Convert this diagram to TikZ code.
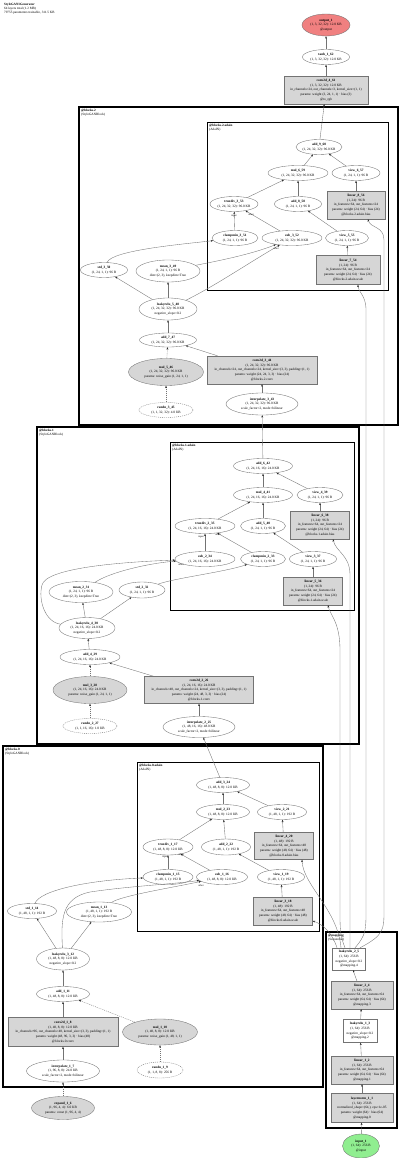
\documentclass[tikz,border=0pt]{standalone}
\usepackage{fontspec}
\setmainfont{Liberation Serif}
\usetikzlibrary{shapes.geometric,arrows.meta}
\definecolor{outred}{HTML}{F08080}
\definecolor{ingreen}{HTML}{90EE90}
\newcommand\mknode[7]{%
 \node[#1,minimum width=#5pt,minimum height=#6pt] (#2) at (#3,#4) {};
 \node[txt] (#2-t) at (#2.center) {#7};}
\begin{document}
\begin{tikzpicture}[x=1pt,y=-1pt,
 txt/.style={inner sep=0pt, align=center, font=\fontsize{3.4}{4.6}\selectfont},
 lbl/.style={inner sep=0pt, align=left, anchor=north west, font=\fontsize{3.3}{3.9}\selectfont},
 elab/.style={inner sep=0pt, font=\fontsize{2.6}{3}\selectfont},
 shp/.style={inner sep=0pt, line width=0.35pt, draw=black!55},
 ell/.style={shp, ellipse, fill=white},
 ellg/.style={ell, fill=black!16},
 elld/.style={ell, dash pattern=on 1pt off 1pt},
 box/.style={shp, rectangle, fill=black!16},
 wbox/.style={shp, rectangle, fill=white},
 outell/.style={ell, fill=outred},
 inell/.style={ell, fill=ingreen},
 blk/.style={draw=black, line width=1.2pt},
 adn/.style={draw=black, line width=0.9pt},
 conn/.style={draw=black!55, line width=0.35pt, -{Stealth[length=2.4pt,width=1.8pt,color=black!85]}},
 connd/.style={conn, dash pattern=on 1pt off 1pt}]
\useasboundingbox (0,0) rectangle (400,1158);
\fill[white] (0,0) rectangle (400,1158);

% title
\node[lbl] (title) at (4,3) {\textbf{StyleGAN1Generator}\\64 layers total (1.2 MB)\\79755 parameters trainable, 311.5 KB};

% clusters
\draw[blk] (79,107) rectangle (398,425);
\node[lbl] (b2l) at (81,109) {\textbf{@blocks.2}\\(StyleGANBlock)};
\draw[adn] (207,122) rectangle (388,290);
\node[lbl] (a2l) at (209,124) {\textbf{@blocks.2.adain}\\(AdaIN)};
\draw[blk] (37,427) rectangle (359,744);
\node[lbl] (b1l) at (39,429) {\textbf{@blocks.1}\\(StyleGANBlock)};
\draw[adn] (170,442) rectangle (354,610);
\node[lbl] (a1l) at (172,444) {\textbf{@blocks.1.adain}\\(AdaIN)};
\draw[blk] (3,746) rectangle (323,1087);
\node[lbl] (b0l) at (5,748) {\textbf{@blocks.0}\\(StyleGANBlock)};
\draw[adn] (137,762) rectangle (319,931);
\node[lbl] (a0l) at (139,764) {\textbf{@blocks.0.adain}\\(AdaIN)};
\draw[blk] (326,932) rectangle (397,1128);
\node[lbl] (mpl) at (328,934) {\textbf{@mapping}\\(Sequential)};

% top
\mknode{outell}{output_1}{326}{25}{48}{22}{\textbf{output\_1}\\(1, 3, 32, 32): 12.0 KB\\@output}
\mknode{ell}{tanh_1_62}{326}{57}{47}{15}{\textbf{tanh\_1\_62}\\(1, 3, 32, 32): 12.0 KB}
\mknode{box}{conv2d_4_61}{326}{90}{84}{28}{\textbf{conv2d\_4\_61}\\(1, 3, 32, 32): 12.0 KB\\in\_channels=24, out\_channels=3, kernel\_size=(1, 1)\\params: weight (3, 24, 1, 1) · bias (3)\\@to\_rgb}

% block2 adain
\mknode{ell}{add_9_60}{319}{147}{46}{15}{\textbf{add\_9\_60}\\(1, 24, 32, 32): 96.0 KB}
\mknode{ell}{mul_6_59}{298}{173}{60}{15}{\textbf{mul\_6\_59}\\(1, 24, 32, 32): 96.0 KB}
\mknode{ell}{view_6_57}{356}{173}{48}{15}{\textbf{view\_6\_57}\\(1, 24, 1, 1): 96 B}
\mknode{box}{linear_8_56}{356}{205}{58}{28}{\textbf{linear\_8\_56}\\(1, 24): 96 B\\in\_features=64, out\_features=24\\params: weight (24, 64) · bias (24)\\@blocks.2.adain.bias}
\mknode{ell}{truediv_3_53}{234}{204}{48}{15}{\textbf{truediv\_3\_53}\\(1, 24, 32, 32): 96.0 KB}
\mknode{ell}{add_8_58}{298}{204}{47}{15}{\textbf{add\_8\_58}\\(1, 24, 1, 1): 96 B}
\mknode{ell}{clampmin_3_51}{235}{238}{46}{15}{\textbf{clampmin\_3\_51}\\(1, 24, 1, 1): 96 B}
\mknode{ell}{sub_3_52}{292}{238}{60}{15}{\textbf{sub\_3\_52}\\(1, 24, 32, 32): 96.0 KB}
\mknode{ell}{view_5_55}{347}{238}{43}{15}{\textbf{view\_5\_55}\\(1, 24, 1, 1): 96 B}
\mknode{box}{linear_7_54}{348}{270}{64}{29}{\textbf{linear\_7\_54}\\(1, 24): 96 B\\in\_features=64, out\_features=24\\params: weight (24, 64) · bias (24)\\@blocks.2.adain.scale}

% block2
\mknode{ell}{std_3_50}{104}{270}{47}{15}{\textbf{std\_3\_50}\\(1, 24, 1, 1): 96 B}
\mknode{ell}{mean_3_49}{168}{271}{64}{22}{\textbf{mean\_3\_49}\\(1, 24, 1, 1): 96 B\\dim=(2, 3), keepdim=True}
\mknode{ell}{leakyrelu_5_48}{168}{309}{58}{22}{\textbf{leakyrelu\_5\_48}\\(1, 24, 32, 32): 96.0 KB\\negative\_slope=0.2}
\mknode{ell}{add_7_47}{168}{340}{57}{14}{\textbf{add\_7\_47}\\(1, 24, 32, 32): 96.0 KB}
\mknode{ellg}{mul_5_46}{166}{372}{75}{27}{\textbf{mul\_5\_46}\\(1, 24, 32, 32): 96.0 KB\\params: noise\_gain (1, 24, 1, 1)}
\mknode{elld}{randn_3_45}{166}{410}{54}{15}{\textbf{randn\_3\_45}\\(1, 1, 32, 32): 4.0 KB}
\mknode{box}{conv2d_3_44}{262}{370}{110}{28}{\textbf{conv2d\_3\_44}\\(1, 24, 32, 32): 96.0 KB\\in\_channels=24, out\_channels=24, kernel\_size=(3, 3), padding=(1, 1)\\params: weight (24, 24, 3, 3) · bias (24)\\@blocks.2.conv}
\mknode{ell}{interpolate_3_43}{262}{404}{72}{22}{\textbf{interpolate\_3\_43}\\(1, 24, 32, 32): 96.0 KB\\scale\_factor=2, mode=bilinear}

% block1 adain
\mknode{ell}{add_6_42}{263}{466}{59}{15}{\textbf{add\_6\_42}\\(1, 24, 16, 16): 24.0 KB}
\mknode{ell}{mul_4_41}{263}{495}{59}{15}{\textbf{mul\_4\_41}\\(1, 24, 16, 16): 24.0 KB}
\mknode{ell}{view_4_39}{320}{495}{46}{15}{\textbf{view\_4\_39}\\(1, 24, 1, 1): 96 B}
\mknode{box}{linear_6_38}{320}{525}{59}{28}{\textbf{linear\_6\_38}\\(1, 24): 96 B\\in\_features=64, out\_features=24\\params: weight (24, 64) · bias (24)\\@blocks.1.adain.bias}
\mknode{ell}{truediv_2_35}{205}{526}{60}{15}{\textbf{truediv\_2\_35}\\(1, 24, 16, 16): 24.0 KB}
\mknode{ell}{add_5_40}{263}{526}{45}{15}{\textbf{add\_5\_40}\\(1, 24, 1, 1): 96 B}
\mknode{ell}{sub_2_34}{205}{559}{60}{15}{\textbf{sub\_2\_34}\\(1, 24, 16, 16): 24.0 KB}
\mknode{ell}{clampmin_2_33}{263}{559}{45}{15}{\textbf{clampmin\_2\_33}\\(1, 24, 1, 1): 96 B}
\mknode{ell}{view_3_37}{313}{559}{47}{15}{\textbf{view\_3\_37}\\(1, 24, 1, 1): 96 B}
\mknode{box}{linear_5_36}{313}{591}{59}{28}{\textbf{linear\_5\_36}\\(1, 24): 96 B\\in\_features=64, out\_features=24\\params: weight (24, 64) · bias (24)\\@blocks.1.adain.scale}

% block1
\mknode{ell}{mean_2_31}{81}{592}{64}{21}{\textbf{mean\_2\_31}\\(1, 24, 1, 1): 96 B\\dim=(2, 3), keepdim=True}
\mknode{ell}{std_2_32}{142}{590}{46}{16}{\textbf{std\_2\_32}\\(1, 24, 1, 1): 96 B}
\mknode{ell}{leakyrelu_4_30}{87}{628}{56}{21}{\textbf{leakyrelu\_4\_30}\\(1, 24, 16, 16): 24.0 KB\\negative\_slope=0.2}
\mknode{ell}{add_4_29}{90}{657}{60}{15}{\textbf{add\_4\_29}\\(1, 24, 16, 16): 24.0 KB}
\mknode{ellg}{mul_3_28}{90}{690}{74}{27}{\textbf{mul\_3\_28}\\(1, 24, 16, 16): 24.0 KB\\params: noise\_gain (1, 24, 1, 1)}
\mknode{elld}{randn_2_27}{90}{726}{54}{15}{\textbf{randn\_2\_27}\\(1, 1, 16, 16): 1.0 KB}
\mknode{box}{conv2d_2_26}{199}{690}{109}{27}{\textbf{conv2d\_2\_26}\\(1, 24, 16, 16): 24.0 KB\\in\_channels=48, out\_channels=24, kernel\_size=(3, 3), padding=(1, 1)\\params: weight (24, 48, 3, 3) · bias (24)\\@blocks.1.conv}
\mknode{ell}{interpolate_2_25}{199}{727}{72}{21}{\textbf{interpolate\_2\_25}\\(1, 48, 16, 16): 48.0 KB\\scale\_factor=2, mode=bilinear}

% block0 adain
\mknode{ell}{add_3_24}{223}{785}{53}{15}{\textbf{add\_3\_24}\\(1, 48, 8, 8): 12.0 KB}
\mknode{ell}{mul_2_23}{223}{812}{53}{15}{\textbf{mul\_2\_23}\\(1, 48, 8, 8): 12.0 KB}
\mknode{ell}{view_2_21}{282}{812}{49}{15}{\textbf{view\_2\_21}\\(1, 48, 1, 1): 192 B}
\mknode{box}{linear_4_20}{284}{846}{59}{27}{\textbf{linear\_4\_20}\\(1, 48): 192 B\\in\_features=64, out\_features=48\\params: weight (48, 64) · bias (48)\\@blocks.0.adain.bias}
\mknode{ell}{truediv_1_17}{168}{847}{50}{16}{\textbf{truediv\_1\_17}\\(1, 48, 8, 8): 12.0 KB}
\mknode{ell}{add_2_22}{226}{847}{49}{16}{\textbf{add\_2\_22}\\(1, 48, 1, 1): 192 B}
\mknode{ell}{clampmin_1_15}{168}{877}{50}{15}{\textbf{clampmin\_1\_15}\\(1, 48, 1, 1): 192 B}
\mknode{ell}{sub_1_16}{222}{877}{51}{15}{\textbf{sub\_1\_16}\\(1, 48, 8, 8): 12.0 KB}
\mknode{ell}{view_1_19}{281}{877}{47}{15}{\textbf{view\_1\_19}\\(1, 48, 1, 1): 192 B}
\mknode{box}{linear_3_18}{283}{911}{59}{28}{\textbf{linear\_3\_18}\\(1, 48): 192 B\\in\_features=64, out\_features=48\\params: weight (48, 64) · bias (48)\\@blocks.0.adain.scale}

% block0
\mknode{ell}{std_1_14}{32}{911}{49}{15}{\textbf{std\_1\_14}\\(1, 48, 1, 1): 192 B}
\mknode{ell}{mean_1_13}{99}{912}{65}{20}{\textbf{mean\_1\_13}\\(1, 48, 1, 1): 192 B\\dim=(2, 3), keepdim=True}
\mknode{ell}{leakyrelu_3_12}{63}{959}{53}{22}{\textbf{leakyrelu\_3\_12}\\(1, 48, 8, 8): 12.0 KB\\negative\_slope=0.2}
\mknode{ell}{add_1_11}{63}{994}{53}{15}{\textbf{add\_1\_11}\\(1, 48, 8, 8): 12.0 KB}
\mknode{box}{conv2d_1_8}{63}{1032}{110}{29}{\textbf{conv2d\_1\_8}\\(1, 48, 8, 8): 12.0 KB\\in\_channels=96, out\_channels=48, kernel\_size=(3, 3), padding=(1, 1)\\params: weight (48, 96, 3, 3) · bias (48)\\@blocks.0.conv}
\mknode{ellg}{mul_1_10}{160}{1032}{75}{26}{\textbf{mul\_1\_10}\\(1, 48, 8, 8): 12.0 KB\\params: noise\_gain (1, 48, 1, 1)}
\mknode{ell}{interpolate_1_7}{63}{1071}{73}{22}{\textbf{interpolate\_1\_7}\\(1, 96, 8, 8): 24.0 KB\\scale\_factor=2, mode=bilinear}
\mknode{elld}{randn_1_9}{160}{1070}{46}{16}{\textbf{randn\_1\_9}\\(1, 1, 8, 8): 256 B}
\mknode{ellg}{expand_1_6}{63}{1108}{63}{23}{\textbf{expand\_1\_6}\\(1, 96, 4, 4): 6.0 KB\\params: const (1, 96, 4, 4)}

% mapping
\mknode{wbox}{leakyrelu_2_5}{349}{959}{33}{22}{\textbf{leakyrelu\_2\_5}\\(1, 64): 256 B\\negative\_slope=0.2\\@mapping.4}
\mknode{box}{linear_2_4}{362}{995}{62}{28}{\textbf{linear\_2\_4}\\(1, 64): 256 B\\in\_features=64, out\_features=64\\params: weight (64, 64) · bias (64)\\@mapping.3}
\mknode{wbox}{leakyrelu_1_3}{360}{1031}{34}{23}{\textbf{leakyrelu\_1\_3}\\(1, 64): 256 B\\negative\_slope=0.2\\@mapping.2}
\mknode{box}{linear_1_2}{362}{1070}{62}{28}{\textbf{linear\_1\_2}\\(1, 64): 256 B\\in\_features=64, out\_features=64\\params: weight (64, 64) · bias (64)\\@mapping.1}
\mknode{box}{layernorm_1_1}{362}{1108}{62}{29}{\textbf{layernorm\_1\_1}\\(1, 64): 256 B\\normalized\_shape=(64,), eps=1e-05\\params: weight (64) · bias (64)\\@mapping.0}
\mknode{inell}{input_1}{361}{1146}{37}{24}{\textbf{input\_1}\\(1, 64): 256 B\\@input}

% edges top
\draw[conn] (tanh_1_62) -- (output_1);
\draw[conn] (conv2d_4_61) -- (tanh_1_62);
\draw[conn] (add_9_60) -- (conv2d_4_61);
% block2 adain
\draw[conn] (mul_6_59) -- (add_9_60);
\draw[conn] (view_6_57) -- (add_9_60);
\draw[conn] (linear_8_56) -- (view_6_57);
\draw[conn] (truediv_3_53) -- (mul_6_59);
\draw[conn] (add_8_58) -- (mul_6_59);
\draw[conn] (view_5_55) -- (add_8_58);
\draw[conn] (linear_7_54) -- (view_5_55);
\draw[conn] (clampmin_3_51) -- (truediv_3_53);
\draw[conn] (sub_3_52) -- (truediv_3_53);
% block2
\draw[conn] (interpolate_3_43) -- (conv2d_3_44);
\draw[conn] (conv2d_3_44) -- (add_7_47);
\draw[connd] (randn_3_45) -- (mul_5_46);
\draw[connd] (mul_5_46) -- (add_7_47);
\draw[conn] (add_7_47) -- (leakyrelu_5_48);
\draw[conn] (leakyrelu_5_48) -- (mean_3_49);
\draw[conn] (leakyrelu_5_48) -- (std_3_50);
\draw[conn] (leakyrelu_5_48) .. controls (215,286) and (250,262) .. (sub_3_52);
\draw[conn] (mean_3_49) .. controls (212,262) and (250,255) .. (sub_3_52);
\draw[conn] (std_3_50) .. controls (112,250) and (185,244) .. (clampmin_3_51);
% block1 adain
\draw[conn] (mul_4_41) -- (add_6_42);
\draw[conn] (view_4_39) -- (add_6_42);
\draw[conn] (linear_6_38) -- (view_4_39);
\draw[conn] (truediv_2_35) -- (mul_4_41);
\draw[conn] (add_5_40) -- (mul_4_41);
\draw[conn] (view_3_37) -- (add_5_40);
\draw[conn] (linear_5_36) -- (view_3_37);
\draw[conn] (sub_2_34) -- (truediv_2_35);
\draw[conn] (clampmin_2_33) -- (truediv_2_35);
% block1
\draw[conn] (interpolate_2_25) -- (conv2d_2_26);
\draw[conn] (conv2d_2_26) -- (add_4_29);
\draw[connd] (randn_2_27) -- (mul_3_28);
\draw[connd] (mul_3_28) -- (add_4_29);
\draw[conn] (add_4_29) -- (leakyrelu_4_30);
\draw[conn] (leakyrelu_4_30) -- (mean_2_31);
\draw[conn] (leakyrelu_4_30) -- (std_2_32);
\draw[conn] (leakyrelu_4_30) .. controls (45,622) and (38,600) .. (42,585) .. controls (46,568) and (120,562) .. (sub_2_34);
\draw[conn] (mean_2_31) .. controls (110,572) and (150,563) .. (sub_2_34);
\draw[conn] (std_2_32) .. controls (175,578) and (225,572) .. (clampmin_2_33);
% block0 adain
\draw[conn] (mul_2_23) -- (add_3_24);
\draw[conn] (view_2_21) -- (add_3_24);
\draw[conn] (linear_4_20) -- (view_2_21);
\draw[conn] (truediv_1_17) -- (mul_2_23);
\draw[conn] (add_2_22) -- (mul_2_23);
\draw[conn] (view_1_19) -- (add_2_22);
\draw[conn] (linear_3_18) -- (view_1_19);
\draw[conn] (clampmin_1_15) -- (truediv_1_17);
\draw[conn] (sub_1_16) -- (truediv_1_17);
% block0
\draw[connd] (expand_1_6) -- (interpolate_1_7);
\draw[conn] (interpolate_1_7) -- (conv2d_1_8);
\draw[conn] (conv2d_1_8) -- (add_1_11);
\draw[connd] (randn_1_9) -- (mul_1_10);
\draw[connd] (mul_1_10) -- (add_1_11);
\draw[conn] (add_1_11) -- (leakyrelu_3_12);
\draw[conn] (leakyrelu_3_12) -- (std_1_14);
\draw[conn] (leakyrelu_3_12) -- (mean_1_13);
\draw[conn] (leakyrelu_3_12) .. controls (61,920) and (61,898) .. (90,892) .. controls (130,886) and (175,884) .. (sub_1_16);
\draw[conn] (mean_1_13) .. controls (120,896) and (170,888) .. (sub_1_16);
\draw[conn] (std_1_14) .. controls (40,890) and (90,880) .. (clampmin_1_15);
% cross-block
\draw[conn] (add_3_24) -- (interpolate_2_25);
\draw[conn] (add_6_42) -- (interpolate_3_43);
% mapping
\draw[conn] (input_1) -- (layernorm_1_1);
\draw[conn] (layernorm_1_1) -- (linear_1_2);
\draw[conn] (linear_1_2) -- (leakyrelu_1_3);
\draw[conn] (leakyrelu_1_3) -- (linear_2_4);
\draw[conn] (linear_2_4) -- (leakyrelu_2_5);
% style vector to every AdaIN linear
\draw[conn] ([xshift=-12pt]leakyrelu_2_5.north) .. controls (332,932) and (322,924) .. (linear_3_18);
\draw[conn] ([xshift=-8pt]leakyrelu_2_5.north) .. controls (338,910) and (303,885) .. ([xshift=18pt]linear_4_20.south);
\draw[conn] ([xshift=-4pt]leakyrelu_2_5.north) .. controls (340,935) and (340,930) .. (340,910) -- (340,650) .. controls (340,622) and (330,615) .. ([xshift=15pt]linear_5_36.south);
\draw[conn] ([xshift=1pt]leakyrelu_2_5.north) .. controls (350,935) and (350,930) .. (350,910) -- (350,575) .. controls (350,555) and (336,552) .. ([xshift=13pt]linear_6_38.south);
\draw[conn] ([xshift=6pt]leakyrelu_2_5.north) .. controls (366,935) and (366,930) .. (366,910) -- (366,310) .. controls (366,295) and (358,292) .. ([xshift=10pt]linear_7_54.south);
\draw[conn] ([xshift=11pt]leakyrelu_2_5.north) .. controls (384,935) and (384,930) .. (384,910) -- (384,240) .. controls (384,226) and (370,228) .. ([xshift=12pt]linear_8_56.south);

% edge labels
\node[elab] (lb1) at (234,216) {input};
\node[elab] (lb2) at (251,214.5) {other};
\node[elab] (lb3) at (276,249) {other};
\node[elab] (lb4) at (201,536.5) {input};
\node[elab] (lb5) at (218,534.5) {other};
\node[elab] (lb6) at (181,565) {other};
\node[elab] (lb7) at (165,857) {input};
\node[elab] (lb8) at (181,855) {other};
\node[elab] (lb9) at (201,886) {other};
\end{tikzpicture}
\end{document}
